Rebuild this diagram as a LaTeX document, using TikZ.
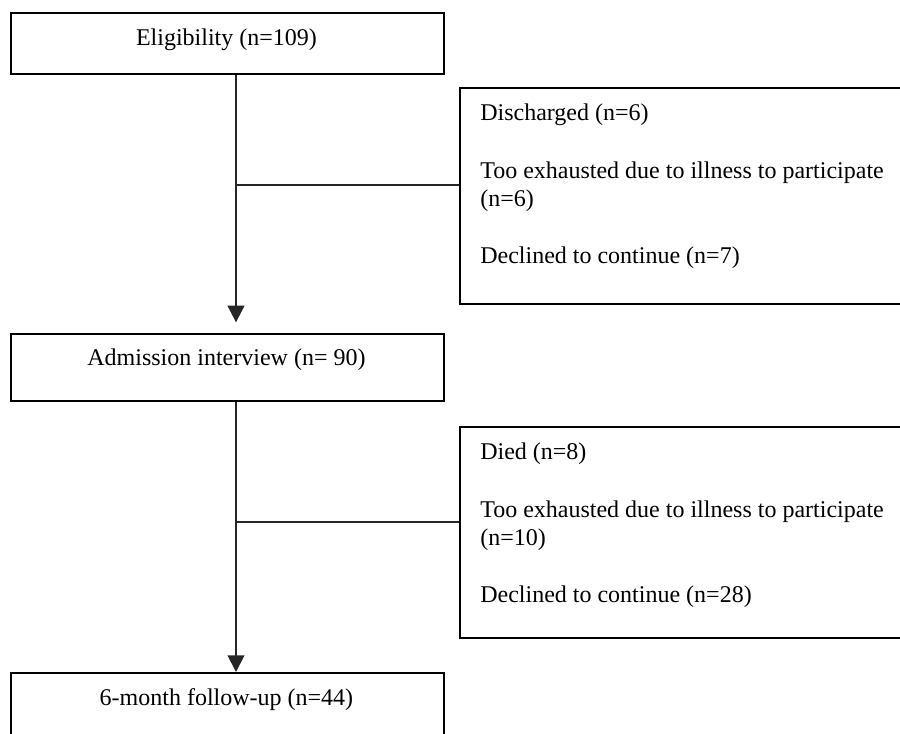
\documentclass[tikz,border=0pt]{standalone}
\usepackage{fontspec}
\setmainfont{Liberation Serif}
\usetikzlibrary{arrows.meta,calc}
\begin{document}
\begin{tikzpicture}[x=0.75pt,y=-0.75pt,
  box/.style={draw=black,line width=1.4pt,inner sep=0pt,anchor=north west},
  lbl/.style={inner sep=0pt,font=\fontsize{18}{22}\selectfont},
  conn/.style={line width=1.4pt,draw=black!85},
  arr/.style={conn,-{Triangle[length=12.5pt,width=12.5pt]}}]
\useasboundingbox (0,0) rectangle (900,733);
\clip (0,0) rectangle (900,733);
% main boxes
\node[box,minimum width=433*0.75pt,minimum height=61*0.75pt] (b1) at (10,12) {};
\node[box,minimum width=433*0.75pt,minimum height=67*0.75pt] (b2) at (10,333) {};
\node[box,minimum width=433*0.75pt,minimum height=100*0.75pt] (b3) at (10,672) {};
% side boxes
\node[box,minimum width=470*0.75pt,minimum height=216*0.75pt] (r1) at (459,87) {};
\node[box,minimum width=470*0.75pt,minimum height=211*0.75pt] (r2) at (459,426) {};
% main texts
\node[lbl,anchor=base] (t1) at ($(b1.north)+(-1,33)$) {Eligibility (n=109)};
\node[lbl,anchor=base] (t2) at ($(b2.north)+(-1,32)$) {Admission interview (n= 90)};
\node[lbl,anchor=base] (t3) at ($(b3.north)+(-1,33)$) {6-month follow-up (n=44)};
% side texts
\node[lbl,anchor=base west] (s11) at ($(r1.north west)+(21,33)$) {Discharged (n=6)};
\node[lbl,anchor=base west] (s12) at ($(r1.north west)+(21,91)$) {Too exhausted due to illness to participate};
\node[lbl,anchor=base west] (s13) at ($(r1.north west)+(21,119)$) {(n=6)};
\node[lbl,anchor=base west] (s14) at ($(r1.north west)+(21,176)$) {Declined to continue (n=7)};
\node[lbl,anchor=base west] (s21) at ($(r2.north west)+(21,33)$) {Died (n=8)};
\node[lbl,anchor=base west] (s22) at ($(r2.north west)+(21,91)$) {Too exhausted due to illness to participate};
\node[lbl,anchor=base west] (s23) at ($(r2.north west)+(21,119)$) {(n=10)};
\node[lbl,anchor=base west] (s24) at ($(r2.north west)+(21,176)$) {Declined to continue (n=28)};
% connectors
\coordinate (a1) at ($(b1.south west)+(226,0)$);
\coordinate (a2) at ($(b2.north west)+(226,0)$);
\coordinate (a3) at ($(b2.south west)+(226,0)$);
\coordinate (a4) at ($(b3.north west)+(226,0)$);
\draw[arr,shorten >=8pt] (a1) -- (a2);
\draw[arr] (a3) -- (a4);
\coordinate (j1) at (236,185);
\coordinate (j2) at (236,522);
\draw[conn] (j1) -- (j1 -| r1.west);
\draw[conn] (j2) -- (j2 -| r2.west);
\end{tikzpicture}
\end{document}
